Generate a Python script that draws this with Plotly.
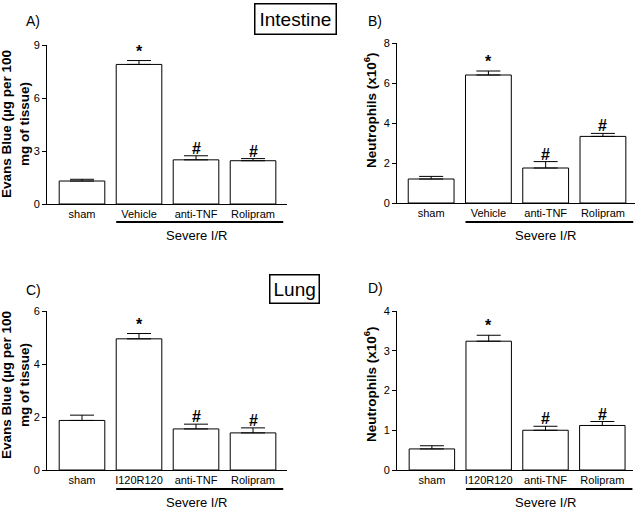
"""Evans blue extravasation and neutrophil counts, intestine and lung."""

import plotly.graph_objects as go

W, H = 640, 509
FONT = "Liberation Sans, Arial, Helvetica, sans-serif"

intestine_groups = ["sham", "Vehicle", "anti-TNF", "Rolipram"]
lung_groups = ["sham", "I120R120", "anti-TNF", "Rolipram"]
marks = ["", "*", "#", "#"]

evans_intestine = [1.3, 7.9, 2.5, 2.45]
evans_intestine_err = [0.1, 0.22, 0.23, 0.12]

neutro_intestine = [1.2, 6.4, 1.75, 3.33]
neutro_intestine_err = [0.13, 0.2, 0.32, 0.15]

evans_lung = [1.87, 4.95, 1.55, 1.4]
evans_lung_err = [0.2, 0.2, 0.18, 0.19]

neutro_lung = [0.53, 3.24, 1.0, 1.12]
neutro_lung_err = [0.08, 0.15, 0.1, 0.1]

evans_title = "<b>Evans Blue (µg per 100<br>mg of tissue)</b>"
neutro_title = "<b>Neutrophils (x10<sup>6</sup>)</b>"


def px_x(p):
    return p / W


def px_y(p):
    return 1 - p / H


# panel: (letter, groups, values, errors, ymax, dtick, x-domain px, y-domain px,
#         x-range, ytitle, title x px, title y px, letter pos, underline y, label y)
panels = [
    ("A)", intestine_groups, evans_intestine, evans_intestine_err, 9, 3,
     (47, 287), (204, 45), (-0.614, 3.596), evans_title, 15, 124, (33, 21), 222, 235),
    ("B)", intestine_groups, neutro_intestine, neutro_intestine_err, 8, 2,
     (397, 635), (203, 43), (-0.596, 3.56), neutro_title, 370, 110, (375, 21), 222, 235),
    ("C)", lung_groups, evans_lung, evans_lung_err, 6, 2,
     (47, 287), (470, 311), (-0.614, 3.596), evans_title, 15, 385, (33, 290), 489, 502),
    ("D)", lung_groups, neutro_lung, neutro_lung_err, 4, 1,
     (397, 633), (470, 311), (-0.614, 3.54), neutro_title, 370, 384, (375, 288), 489, 502),
]

fig = go.Figure()
annotations = []
shapes = []


def note(x, y, text, size, **kw):
    d = dict(x=x, y=y, text=text, showarrow=False, xanchor="center",
             yanchor="middle", font=dict(family=FONT, size=size, color="black"))
    d.update(kw)
    return d


for i, (letter, groups, vals, errs, ymax, dtick, xd, yd, xr, ytitle,
        tx, ty, lpos, uline_y, label_y) in enumerate(panels, start=1):
    xa = "x" if i == 1 else f"x{i}"
    ya = "y" if i == 1 else f"y{i}"
    pos = list(range(len(groups)))

    fig.add_trace(go.Bar(
        x=pos, y=vals, width=0.8,
        marker=dict(color="white", line=dict(color="black", width=1)),
        error_y=dict(type="data", array=errs, arrayminus=[0] * len(errs),
                     symmetric=False, color="black", thickness=1, width=12),
        xaxis=xa, yaxis=ya, showlegend=False, hoverinfo="skip",
    ))

    axis_x = dict(domain=[px_x(xd[0]), px_x(xd[1])], range=list(xr),
                  tickvals=pos, ticktext=groups, ticks="", showline=True,
                  linecolor="black", linewidth=1, showgrid=False, zeroline=False,
                  tickfont=dict(family=FONT, size=11, color="black"),
                  anchor=ya, fixedrange=True, automargin=False)
    axis_y = dict(domain=[px_y(yd[0]), px_y(yd[1])], range=[0, ymax], dtick=dtick,
                  ticks="outside", ticklen=4, tickcolor="black", showline=True,
                  linecolor="black", linewidth=1, showgrid=False, zeroline=False,
                  tickfont=dict(family=FONT, size=11, color="black"),
                  anchor=xa, fixedrange=True, automargin=False)
    fig.update_layout(**{("xaxis" if i == 1 else f"xaxis{i}"): axis_x,
                         ("yaxis" if i == 1 else f"yaxis{i}"): axis_y})

    # significance marks
    for p, v, e, m in zip(pos, vals, errs, marks):
        if m:
            annotations.append(note(p, v + e, f"<b>{m}</b>", 16, xref=xa, yref=ya,
                                    yanchor="bottom",
                                    yshift=-3 if m == "#" else -1))

    # group underline + label
    shapes.append(dict(type="line", xref=xa, yref="paper", x0=0.6, x1=3.53,
                       y0=px_y(uline_y), y1=px_y(uline_y),
                       line=dict(color="black", width=2)))
    annotations.append(note(2.0, px_y(label_y), "Severe I/R", 13,
                            xref=xa, yref="paper"))

    annotations.append(note(px_x(tx), px_y(ty), ytitle, 13.5, textangle=-90,
                            xref="paper", yref="paper"))
    annotations.append(note(px_x(lpos[0]), px_y(lpos[1]), letter, 14,
                            xref="paper", yref="paper"))

# organ boxes
annotations.append(note(px_x(295.5), px_y(19), "Intestine", 19,
                        xref="paper", yref="paper", bordercolor="black",
                        borderwidth=1.5, borderpad=4))
annotations.append(note(px_x(294), px_y(289), "Lung", 19,
                        xref="paper", yref="paper", bordercolor="black",
                        borderwidth=1.5, borderpad=3))

fig.update_layout(
    width=W, height=H,
    margin=dict(l=0, r=0, t=0, b=0, autoexpand=False),
    paper_bgcolor="white", plot_bgcolor="white",
    annotations=annotations, shapes=shapes,
    bargap=0.2,
)

fig.write_html("out.html", config={"displayModeBar": False},
               post_script="document.body.style.margin='0px';")
